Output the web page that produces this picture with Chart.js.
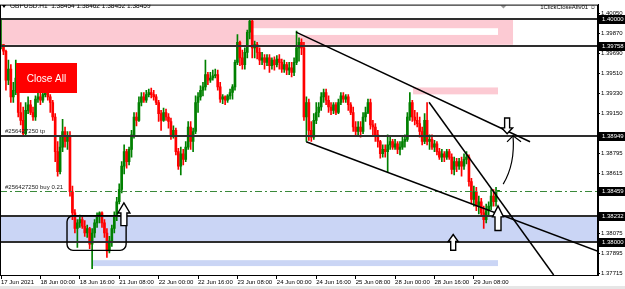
<!DOCTYPE html>
<html lang="en">
<head>
<meta charset="UTF-8">
<title>GBPUSD.H1</title>
<script src="https://cdn.jsdelivr.net/npm/chart.js"></script>
<style>
    html, body { margin: 0; padding: 0; background: #fff; }
    #chart { display: block; }
</style>
</head>
<body>
<canvas id="chart" width="625" height="289"></canvas>
<script>
    // hourly candles, 17 Jun 08:00 .. 29 Jun 18:00
    const opens = [
        1.3975,1.3977,1.3971,1.3945,1.3955,1.3930,1.3936,1.3947,1.3916,1.3909,
        1.3897,1.3918,1.3923,1.3916,1.3912,1.3928,1.3930,1.3927,1.3932,1.3934,
        1.3930,1.3925,1.3912,1.3881,1.3863,1.3885,1.3899,1.3890,1.3894,1.3845,
        1.3826,1.3812,1.3817,1.3820,1.3814,1.3808,1.3812,1.3798,1.3808,1.3817,
        1.3823,1.3826,1.3817,1.3808,1.3792,1.3801,1.3812,1.3823,1.3836,1.3847,
        1.3868,1.3881,1.3872,1.3883,1.3896,1.3912,1.3909,1.3925,1.3930,1.3927,
        1.3932,1.3934,1.3932,1.3930,1.3925,1.3915,1.3909,1.3916,1.3912,1.3908,
        1.3896,1.3900,1.3881,1.3868,1.3879,1.3874,1.3885,1.3903,1.3890,1.3899,
        1.3925,1.3930,1.3936,1.3939,1.3950,1.3945,1.3947,1.3949,1.3950,1.3939,
        1.3928,1.3930,1.3927,1.3931,1.3934,1.3939,1.3961,1.3979,1.3965,1.3959,
        1.3970,1.3988,1.3998,1.3974,1.3977,1.3970,1.3963,1.3965,1.3961,1.3965,
        1.3958,1.3963,1.3959,1.3964,1.3961,1.3955,1.3959,1.3954,1.3956,1.3952,
        1.3961,1.3974,1.3979,1.3974,1.3912,1.3925,1.3900,1.3894,1.3909,1.3916,
        1.3921,1.3930,1.3934,1.3927,1.3921,1.3918,1.3923,1.3916,1.3925,1.3931,
        1.3928,1.3930,1.3923,1.3916,1.3903,1.3899,1.3903,1.3899,1.3912,1.3916,
        1.3925,1.3905,1.3903,1.3896,1.3890,1.3879,1.3883,1.3881,1.3887,1.3890,
        1.3885,1.3888,1.3883,1.3885,1.3890,1.3892,1.3912,1.3925,1.3912,1.3909,
        1.3906,1.3899,1.3890,1.3909,1.3890,1.3892,1.3885,1.3888,1.3881,1.3876,
        1.3879,1.3876,1.3881,1.3876,1.3865,1.3872,1.3868,1.3872,1.3868,1.3874,
        1.3876,1.3854,1.3838,1.3845,1.3832,1.3836,1.3826,1.3820,1.3828,1.3832,
        1.3841,1.3836,1.38454
    ];
    const highs = [
        1.4000,1.3977,1.3972,1.3963,1.3959,1.3943,1.3963,1.3950,1.3925,1.3921,
        1.3925,1.3930,1.3927,1.3921,1.3931,1.3934,1.3934,1.3936,1.3939,1.3938,
        1.3932,1.3927,1.3915,1.3890,1.3894,1.3910,1.3903,1.3899,1.3899,1.3850,
        1.3829,1.3820,1.3824,1.3823,1.3819,1.3815,1.3813,1.3812,1.3820,1.3826,
        1.3827,1.3827,1.3820,1.3812,1.3805,1.3815,1.3827,1.3840,1.3852,1.3872,
        1.3887,1.3883,1.3885,1.3900,1.3916,1.3916,1.3930,1.3934,1.3934,1.3936,
        1.3937,1.3938,1.3936,1.3932,1.3927,1.3918,1.3920,1.3919,1.3915,1.3911,
        1.3904,1.3902,1.3884,1.3885,1.3883,1.3890,1.3908,1.3908,1.3902,1.3931,
        1.3934,1.3940,1.3943,1.3963,1.3952,1.3952,1.3954,1.3955,1.3954,1.3943,
        1.3932,1.3931,1.3932,1.3937,1.3941,1.3963,1.3986,1.3980,1.3972,1.3974,
        1.3990,1.4000,1.4000,1.3980,1.3979,1.3974,1.3970,1.3968,1.3968,1.3968,
        1.3965,1.3966,1.3967,1.3968,1.3964,1.3963,1.3961,1.3961,1.3961,1.3965,
        1.3989,1.3983,1.3982,1.3979,1.3930,1.3928,1.3908,1.3915,1.3925,1.3925,
        1.3934,1.3937,1.3937,1.3931,1.3925,1.3925,1.3925,1.3928,1.3934,1.3934,
        1.3932,1.3932,1.3925,1.3921,1.3908,1.3908,1.3908,1.3916,1.3921,1.3928,
        1.3928,1.3909,1.3906,1.3900,1.3891,1.3887,1.3887,1.3896,1.3894,1.3892,
        1.3892,1.3890,1.3890,1.3894,1.3896,1.3916,1.3934,1.3927,1.3918,1.3916,
        1.3912,1.3903,1.3915,1.3925,1.3896,1.3896,1.3891,1.3890,1.3884,1.3883,
        1.3881,1.3883,1.3883,1.3879,1.3876,1.3875,1.3875,1.3876,1.3879,1.3881,
        1.3878,1.3857,1.3850,1.3849,1.3841,1.3839,1.3832,1.3834,1.3836,1.3847,
        1.3847,1.3849,1.38462
    ];
    const lows = [
        1.3973,1.3968,1.3936,1.3941,1.3925,1.3925,1.3932,1.3912,1.3905,1.3895,
        1.3896,1.3915,1.3914,1.3909,1.3909,1.3925,1.3923,1.3925,1.3930,1.3927,
        1.3916,1.3909,1.3872,1.3859,1.3861,1.3881,1.3885,1.3883,1.3841,1.3820,
        1.3808,1.3795,1.3813,1.3812,1.3805,1.3804,1.3794,1.3776,1.3804,1.3813,
        1.3817,1.3813,1.3804,1.3786,1.3790,1.3796,1.3808,1.3819,1.3834,1.3844,
        1.3861,1.3866,1.3869,1.3876,1.3893,1.3904,1.3908,1.3922,1.3925,1.3925,
        1.3930,1.3929,1.3927,1.3923,1.3908,1.3900,1.3908,1.3909,1.3902,1.3892,
        1.3893,1.3878,1.3865,1.3860,1.3869,1.3872,1.3883,1.3883,1.3881,1.3897,
        1.3916,1.3927,1.3931,1.3936,1.3941,1.3943,1.3945,1.3947,1.3936,1.3925,
        1.3924,1.3923,1.3925,1.3928,1.3928,1.3936,1.3959,1.3958,1.3955,1.3955,
        1.3965,1.3982,1.3965,1.3965,1.3964,1.3959,1.3959,1.3955,1.3958,1.3952,
        1.3955,1.3954,1.3957,1.3955,1.3952,1.3952,1.3950,1.3950,1.3948,1.3949,
        1.3959,1.3962,1.3968,1.3909,1.3890,1.3891,1.3890,1.3892,1.3906,1.3912,
        1.3918,1.3925,1.3923,1.3916,1.3914,1.3915,1.3914,1.3915,1.3923,1.3925,
        1.3925,1.3918,1.3914,1.3899,1.3896,1.3896,1.3894,1.3897,1.3908,1.3915,
        1.3901,1.3896,1.3890,1.3885,1.3875,1.3876,1.3876,1.3863,1.3883,1.3883,
        1.3883,1.3879,1.3878,1.3883,1.3885,1.3890,1.3909,1.3908,1.3905,1.3903,
        1.3894,1.3887,1.3888,1.3887,1.3883,1.3883,1.3881,1.3878,1.3874,1.3872,
        1.3872,1.3874,1.3874,1.3861,1.3860,1.3863,1.3865,1.3859,1.3865,1.3870,
        1.3850,1.3834,1.3832,1.3828,1.3825,1.3823,1.3812,1.3817,1.3823,1.3829,
        1.3832,1.3832,1.38452
    ];
    const closes = [
        1.3977,1.3971,1.3945,1.3955,1.3930,1.3936,1.3947,1.3916,1.3909,1.3897,
        1.3918,1.3923,1.3916,1.3912,1.3928,1.3930,1.3927,1.3932,1.3934,1.3930,
        1.3925,1.3912,1.3881,1.3863,1.3885,1.3899,1.3890,1.3894,1.3845,1.3826,
        1.3812,1.3817,1.3820,1.3814,1.3808,1.3812,1.3798,1.3808,1.3817,1.3823,
        1.3826,1.3817,1.3808,1.3792,1.3801,1.3812,1.3823,1.3836,1.3847,1.3868,
        1.3881,1.3872,1.3883,1.3896,1.3912,1.3909,1.3925,1.3930,1.3927,1.3932,
        1.3934,1.3932,1.3930,1.3925,1.3915,1.3909,1.3916,1.3912,1.3908,1.3896,
        1.3900,1.3881,1.3868,1.3879,1.3874,1.3885,1.3903,1.3890,1.3899,1.3925,
        1.3930,1.3936,1.3939,1.3950,1.3945,1.3947,1.3949,1.3950,1.3939,1.3928,
        1.3930,1.3927,1.3931,1.3934,1.3939,1.3961,1.3979,1.3965,1.3959,1.3970,
        1.3988,1.3998,1.3974,1.3977,1.3970,1.3963,1.3965,1.3961,1.3965,1.3958,
        1.3963,1.3959,1.3964,1.3961,1.3955,1.3959,1.3954,1.3956,1.3952,1.3961,
        1.3974,1.3979,1.3974,1.3912,1.3925,1.3900,1.3894,1.3909,1.3916,1.3921,
        1.3930,1.3934,1.3927,1.3921,1.3918,1.3923,1.3916,1.3925,1.3931,1.3928,
        1.3930,1.3923,1.3916,1.3903,1.3899,1.3903,1.3899,1.3912,1.3916,1.3925,
        1.3905,1.3903,1.3896,1.3890,1.3879,1.3883,1.3881,1.3887,1.3890,1.3885,
        1.3888,1.3883,1.3885,1.3890,1.3892,1.3912,1.3925,1.3912,1.3909,1.3906,
        1.3899,1.3890,1.3909,1.3890,1.3892,1.3885,1.3888,1.3881,1.3876,1.3879,
        1.3876,1.3881,1.3876,1.3865,1.3872,1.3868,1.3872,1.3868,1.3874,1.3876,
        1.3854,1.3838,1.3845,1.3832,1.3836,1.3826,1.3820,1.3828,1.3832,1.3841,
        1.3836,1.3845,1.38459
    ];

    // one time label every 16 bars
    const labelStep = 16;
    const timeLabels = ['17 Jun 2021', '18 Jun 00:00', '18 Jun 16:00', '21 Jun 08:00', '22 Jun 00:00',
        '22 Jun 16:00', '23 Jun 08:00', '24 Jun 00:00', '24 Jun 16:00', '25 Jun 08:00',
        '28 Jun 00:00', '28 Jun 16:00', '29 Jun 08:00'];
    const priceTicks = [1.40050, 1.39870, 1.39690, 1.39510, 1.39330, 1.39150,
        1.38795, 1.38615, 1.38435, 1.38075, 1.37895, 1.37715];

    // drawn objects, in bar index / price
    const levelLines = [1.40000, 1.39758, 1.38949, 1.38232, 1.38000];
    const orderPrice = 1.38459;
    const zones = [
        { from: null, to: 207.9, top: 1.39990, bottom: 1.39768, color: '#fccad3' },
        { from: 102.3, to: 201.8, top: 1.39916, bottom: 1.39856, color: '#ffffff' },
        { from: 167.3, to: 201.8, top: 1.39385, bottom: 1.39323, color: '#fccad3' },
        { from: null, to: null, top: 1.38232, bottom: 1.38000, color: '#cad5f5' },
        { from: 37, to: 201.8, top: 1.37836, bottom: 1.37783, color: '#cad5f5' }
    ];
    const trendLines = [
        [[119.8, 1.39881], [214.8, 1.38898]],
        [[123.9, 1.38898], [242.4, 1.37916]],
        [[173.8, 1.39252], [224.4, 1.37703]]
    ];
    const upArrows = [
        { i: 49.9, tip: 1.38349, end: 1.38146, head: 12, shaft: 6, len: 10 },
        { i: 201.8, tip: 1.38323, end: 1.38102, head: 11, shaft: 6, len: 11 },
        { i: 183.6, tip: 1.38066, end: 1.37925, head: 10, shaft: 5, len: 7 },
        { i: 205.5, tip: 1.38969, end: 1.39111, head: 11, shaft: 5, len: 6 }
    ];
    const boxMark = { from: 26.8, to: 50.8, top: 1.38234, bottom: 1.37924 };
    const curveArrow = [[203.9, 1.38518], [208.8, 1.38700], [207.9, 1.38951]];

    const UP = '#008000';
    const DOWN = '#ff0000';
    const FONT = 'Liberation Sans, Arial, sans-serif';
    const candleColor = c => closes[c.dataIndex] >= opens[c.dataIndex] ? UP : DOWN;

    function blockArrow(ctx, cx, yTip, yEnd, a) {
        const d = yEnd > yTip ? 1 : -1;
        const yh = yTip + d * a.len;
        ctx.beginPath();
        ctx.moveTo(cx, yTip);
        ctx.lineTo(cx + a.head / 2, yh);
        ctx.lineTo(cx + a.shaft / 2, yh);
        ctx.lineTo(cx + a.shaft / 2, yEnd);
        ctx.lineTo(cx - a.shaft / 2, yEnd);
        ctx.lineTo(cx - a.shaft / 2, yh);
        ctx.lineTo(cx - a.head / 2, yh);
        ctx.closePath();
        ctx.fillStyle = '#fff';
        ctx.fill();
        ctx.lineWidth = 1.4;
        ctx.strokeStyle = '#000';
        ctx.stroke();
    }

    const overlay = {
        id: 'overlay',
        beforeDatasetsDraw(chart) {
            const { ctx, chartArea: a, scales: { x, y } } = chart;
            ctx.save();
            zones.forEach(z => {
                const x0 = z.from === null ? a.left : x.getPixelForValue(z.from);
                const x1 = z.to === null ? a.right : x.getPixelForValue(z.to);
                const y0 = y.getPixelForValue(z.top);
                const y1 = y.getPixelForValue(z.bottom);
                ctx.fillStyle = z.color;
                ctx.fillRect(x0, y0, x1 - x0, y1 - y0);
            });
            ctx.restore();
        },
        afterDatasetsDraw(chart) {
            const { ctx, chartArea: a, scales: { x, y } } = chart;
            ctx.save();
            ctx.beginPath();
            ctx.rect(a.left, a.top, a.right - a.left, a.bottom - a.top);
            ctx.clip();

            // horizontal levels
            ctx.strokeStyle = '#2e2e2e';
            ctx.lineWidth = 2;
            levelLines.forEach(v => {
                const py = Math.round(y.getPixelForValue(v));
                ctx.beginPath();
                ctx.moveTo(a.left, py);
                ctx.lineTo(a.right, py);
                ctx.stroke();
            });

            // open order line
            const oy = Math.round(y.getPixelForValue(orderPrice)) + 0.5;
            ctx.strokeStyle = '#3a8a3a';
            ctx.lineWidth = 1;
            ctx.setLineDash([7, 3, 2, 3]);
            ctx.beginPath();
            ctx.moveTo(a.left, oy);
            ctx.lineTo(a.right, oy);
            ctx.stroke();
            ctx.setLineDash([]);

            // trend lines
            ctx.strokeStyle = '#000';
            ctx.lineWidth = 1.5;
            trendLines.forEach(([p, q]) => {
                ctx.beginPath();
                ctx.moveTo(x.getPixelForValue(p[0]), y.getPixelForValue(p[1]));
                ctx.lineTo(x.getPixelForValue(q[0]), y.getPixelForValue(q[1]));
                ctx.stroke();
            });

            // rounded box around the base
            const bx0 = x.getPixelForValue(boxMark.from);
            const bx1 = x.getPixelForValue(boxMark.to);
            const by0 = y.getPixelForValue(boxMark.top);
            const by1 = y.getPixelForValue(boxMark.bottom);
            ctx.lineWidth = 1.4;
            ctx.beginPath();
            ctx.roundRect(bx0, by0, bx1 - bx0, by1 - by0, 6);
            ctx.stroke();

            // curved arrow up to the trend line
            const [c0, c1, c2] = curveArrow.map(p => [x.getPixelForValue(p[0]), y.getPixelForValue(p[1])]);
            ctx.lineWidth = 1.2;
            ctx.beginPath();
            ctx.moveTo(c0[0], c0[1]);
            ctx.quadraticCurveTo(c1[0], c1[1], c2[0], c2[1]);
            ctx.stroke();
            ctx.beginPath();
            ctx.moveTo(c2[0] - 6, c2[1] + 6);
            ctx.lineTo(c2[0], c2[1]);
            ctx.lineTo(c2[0] + 8, c2[1] + 6);
            ctx.stroke();

            upArrows.forEach(ar => blockArrow(ctx, x.getPixelForValue(ar.i),
                y.getPixelForValue(ar.tip), y.getPixelForValue(ar.end), ar));

            // order labels
            ctx.fillStyle = '#222';
            ctx.font = '6px ' + FONT;
            ctx.textAlign = 'left';
            ctx.textBaseline = 'alphabetic';
            ctx.fillText('#256427250 tp', a.left + 5, y.getPixelForValue(levelLines[2]) - 3);
            ctx.fillText('#256427250 buy 0.21', a.left + 5, oy - 3);

            // Close All button
            ctx.fillStyle = '#ff0000';
            ctx.fillRect(16, 63, 61, 30);
            ctx.fillStyle = '#fff';
            ctx.font = '10px ' + FONT;
            ctx.textAlign = 'center';
            ctx.textBaseline = 'middle';
            ctx.fillText('Close All', 46.5, 79);

            // header
            ctx.fillStyle = '#000';
            ctx.font = '6.5px ' + FONT;
            ctx.textAlign = 'left';
            ctx.fillText('GBPUSD.H1  ' + [opens, highs, lows, closes].map(s => s[s.length - 1].toFixed(5)).join(' '), 10, 6.5);
            ctx.beginPath();
            ctx.moveTo(2, 5);
            ctx.lineTo(6, 5);
            ctx.lineTo(4, 8);
            ctx.closePath();
            ctx.fill();
            ctx.font = '6px ' + FONT;
            ctx.textAlign = 'right';
            ctx.fillText('1ClickCloseAllv01 \u263A', a.right - 2, 7);

            // shift marker
            const sx = x.getPixelForValue(closes.length + 1);
            ctx.fillStyle = '#9a9a9a';
            ctx.beginPath();
            ctx.moveTo(sx - 3, a.top + 1);
            ctx.lineTo(sx + 3, a.top + 1);
            ctx.lineTo(sx, a.top + 4);
            ctx.closePath();
            ctx.fill();
            ctx.restore();

            // frame
            ctx.save();
            ctx.strokeStyle = '#000';
            ctx.lineWidth = 1;
            ctx.strokeRect(a.left + 0.5, a.top + 0.5, a.right - a.left - 1, a.bottom - a.top);
            ctx.restore();
        },
        afterDraw(chart) {
            const { ctx, chartArea: a, scales: { y } } = chart;
            ctx.save();
            ctx.font = '6px ' + FONT;
            ctx.textAlign = 'left';
            ctx.textBaseline = 'middle';
            [...levelLines, orderPrice].forEach(v => {
                const py = Math.round(y.getPixelForValue(v));
                ctx.fillStyle = '#000';
                ctx.fillRect(a.right + 1, py - 4, chart.width - a.right - 1, 9);
                ctx.fillStyle = '#fff';
                ctx.fillText(v.toFixed(5), a.right + 4, py + 0.5);
            });
            ctx.fillStyle = '#e6e6e6';
            ctx.fillRect(0, chart.height - 3, chart.width, 3);
            ctx.restore();
        }
    };

    const indexes = closes.map((c, i) => i);

    const chart = new Chart(document.getElementById('chart'), {
        type: 'bar',
        data: {
            datasets: [
                {
                    label: 'wick',
                    data: indexes.map(i => ({ x: i, y: [lows[i], highs[i]] })),
                    backgroundColor: candleColor,
                    barThickness: 1,
                    grouped: false,
                    order: 2
                },
                {
                    label: 'body',
                    data: indexes.map(i => ({ x: i, y: [opens[i], closes[i]] })),
                    backgroundColor: candleColor,
                    barThickness: 2,
                    minBarLength: 1,
                    grouped: false,
                    order: 1
                }
            ]
        },
        options: {
            responsive: false,
            animation: false,
            devicePixelRatio: 1,
            layout: { padding: { top: 1, left: 0, right: 0, bottom: 0 } },
            plugins: { legend: { display: false }, tooltip: { enabled: false } },
            scales: {
                x: {
                    type: 'linear',
                    offset: false,
                    min: -0.41,
                    max: 242.4,
                    grid: { offset: false, drawOnChartArea: false, tickLength: 4, color: '#000' },
                    border: { color: '#000' },
                    afterBuildTicks: s => { s.ticks = timeLabels.map((t, k) => ({ value: k * labelStep })); },
                    ticks: {
                        align: 'start',
                        autoSkip: false,
                        maxRotation: 0,
                        padding: 0,
                        color: '#000',
                        font: { family: FONT, size: 6 },
                        callback: v => timeLabels[Math.round(v / labelStep)]
                    },
                    afterFit: s => { s.height = 14; }
                },
                y: {
                    position: 'right',
                    min: 1.37703,
                    max: 1.40128,
                    beginAtZero: false,
                    grid: { drawOnChartArea: false, tickLength: 2, color: '#000' },
                    border: { color: '#000' },
                    afterBuildTicks: s => { s.ticks = priceTicks.map(v => ({ value: v })); },
                    ticks: {
                        padding: 1,
                        color: '#000',
                        font: { family: FONT, size: 6 },
                        callback: v => v.toFixed(5)
                    },
                    afterFit: s => { s.width = 27; }
                }
            }
        },
        plugins: [overlay]
    });
</script>
</body>
</html>
